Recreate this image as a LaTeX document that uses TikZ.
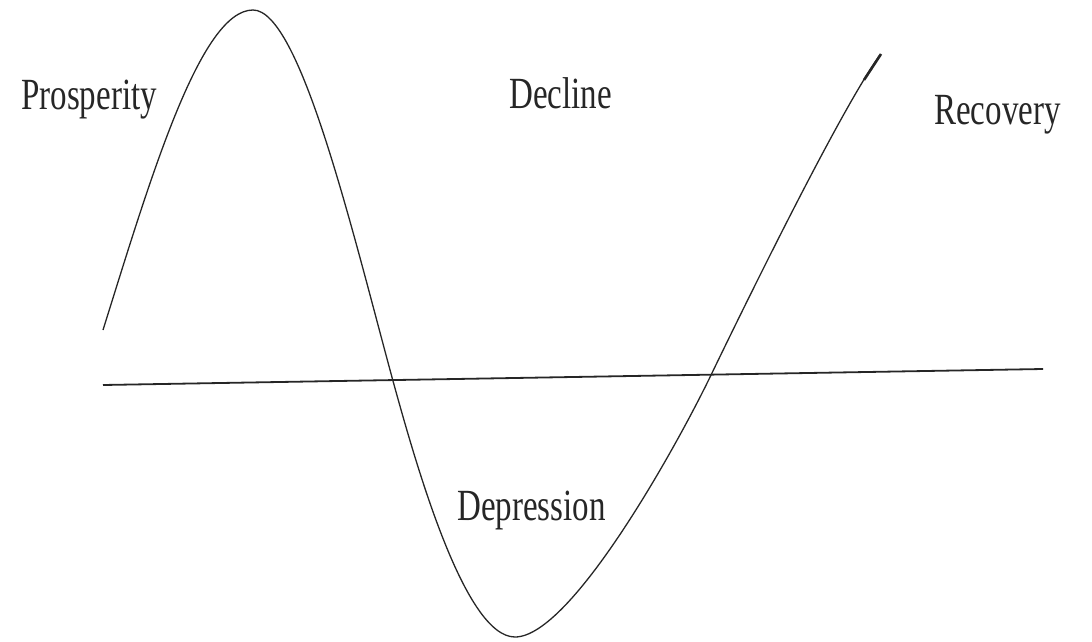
\documentclass[tikz,border=0pt]{standalone}
\usepackage{fontspec}
\setmainfont{Liberation Serif}
\begin{document}
\begin{tikzpicture}[x=1pt,y=-1pt,
  lbl/.style={inner sep=0pt,anchor=base west,text=black!85,font=\fontsize{33}{40}\selectfont},
  wave/.style={line width=1.3pt,black!85},
  axis/.style={line width=1.8pt,black!85}]
\useasboundingbox (0,0) rectangle (1092,642);
\coordinate (axL) at (103,385);
\coordinate (axR) at (1043,369);
\draw[axis] (axL) -- (axR);
\coordinate (w0) at (103,330);
\coordinate (w1) at (253,10);
\coordinate (w2) at (393,381);
\coordinate (w3) at (515,637);
\coordinate (w4) at (712,373);
\coordinate (w5) at (880,55);
\draw[wave] (w0) .. controls (150,180) and (200,10) .. (w1)
  .. controls (300,10) and (352,230) .. (w2)
  .. controls (417,468) and (465,637) .. (w3)
  .. controls (572,637) and (680,440) .. (w4)
  .. controls (741,313) and (840,110) .. (w5);
\coordinate (tipA) at (864,80);
\coordinate (tipB) at (881,54);
\draw[line width=2.6pt,black!85] (tipA) -- (tipB);
\node[lbl] (pros) at (21,110) {\scalebox{1}[1.35]{Prosperity}};
\node[lbl] (decl) at (509,108) {\scalebox{1}[1.35]{Decline}};
\node[lbl] (reco) at (934,124) {\scalebox{1}[1.35]{Recovery}};
\node[lbl] (depr) at (457,520) {\scalebox{1}[1.35]{Depression}};
\end{tikzpicture}
\end{document}
